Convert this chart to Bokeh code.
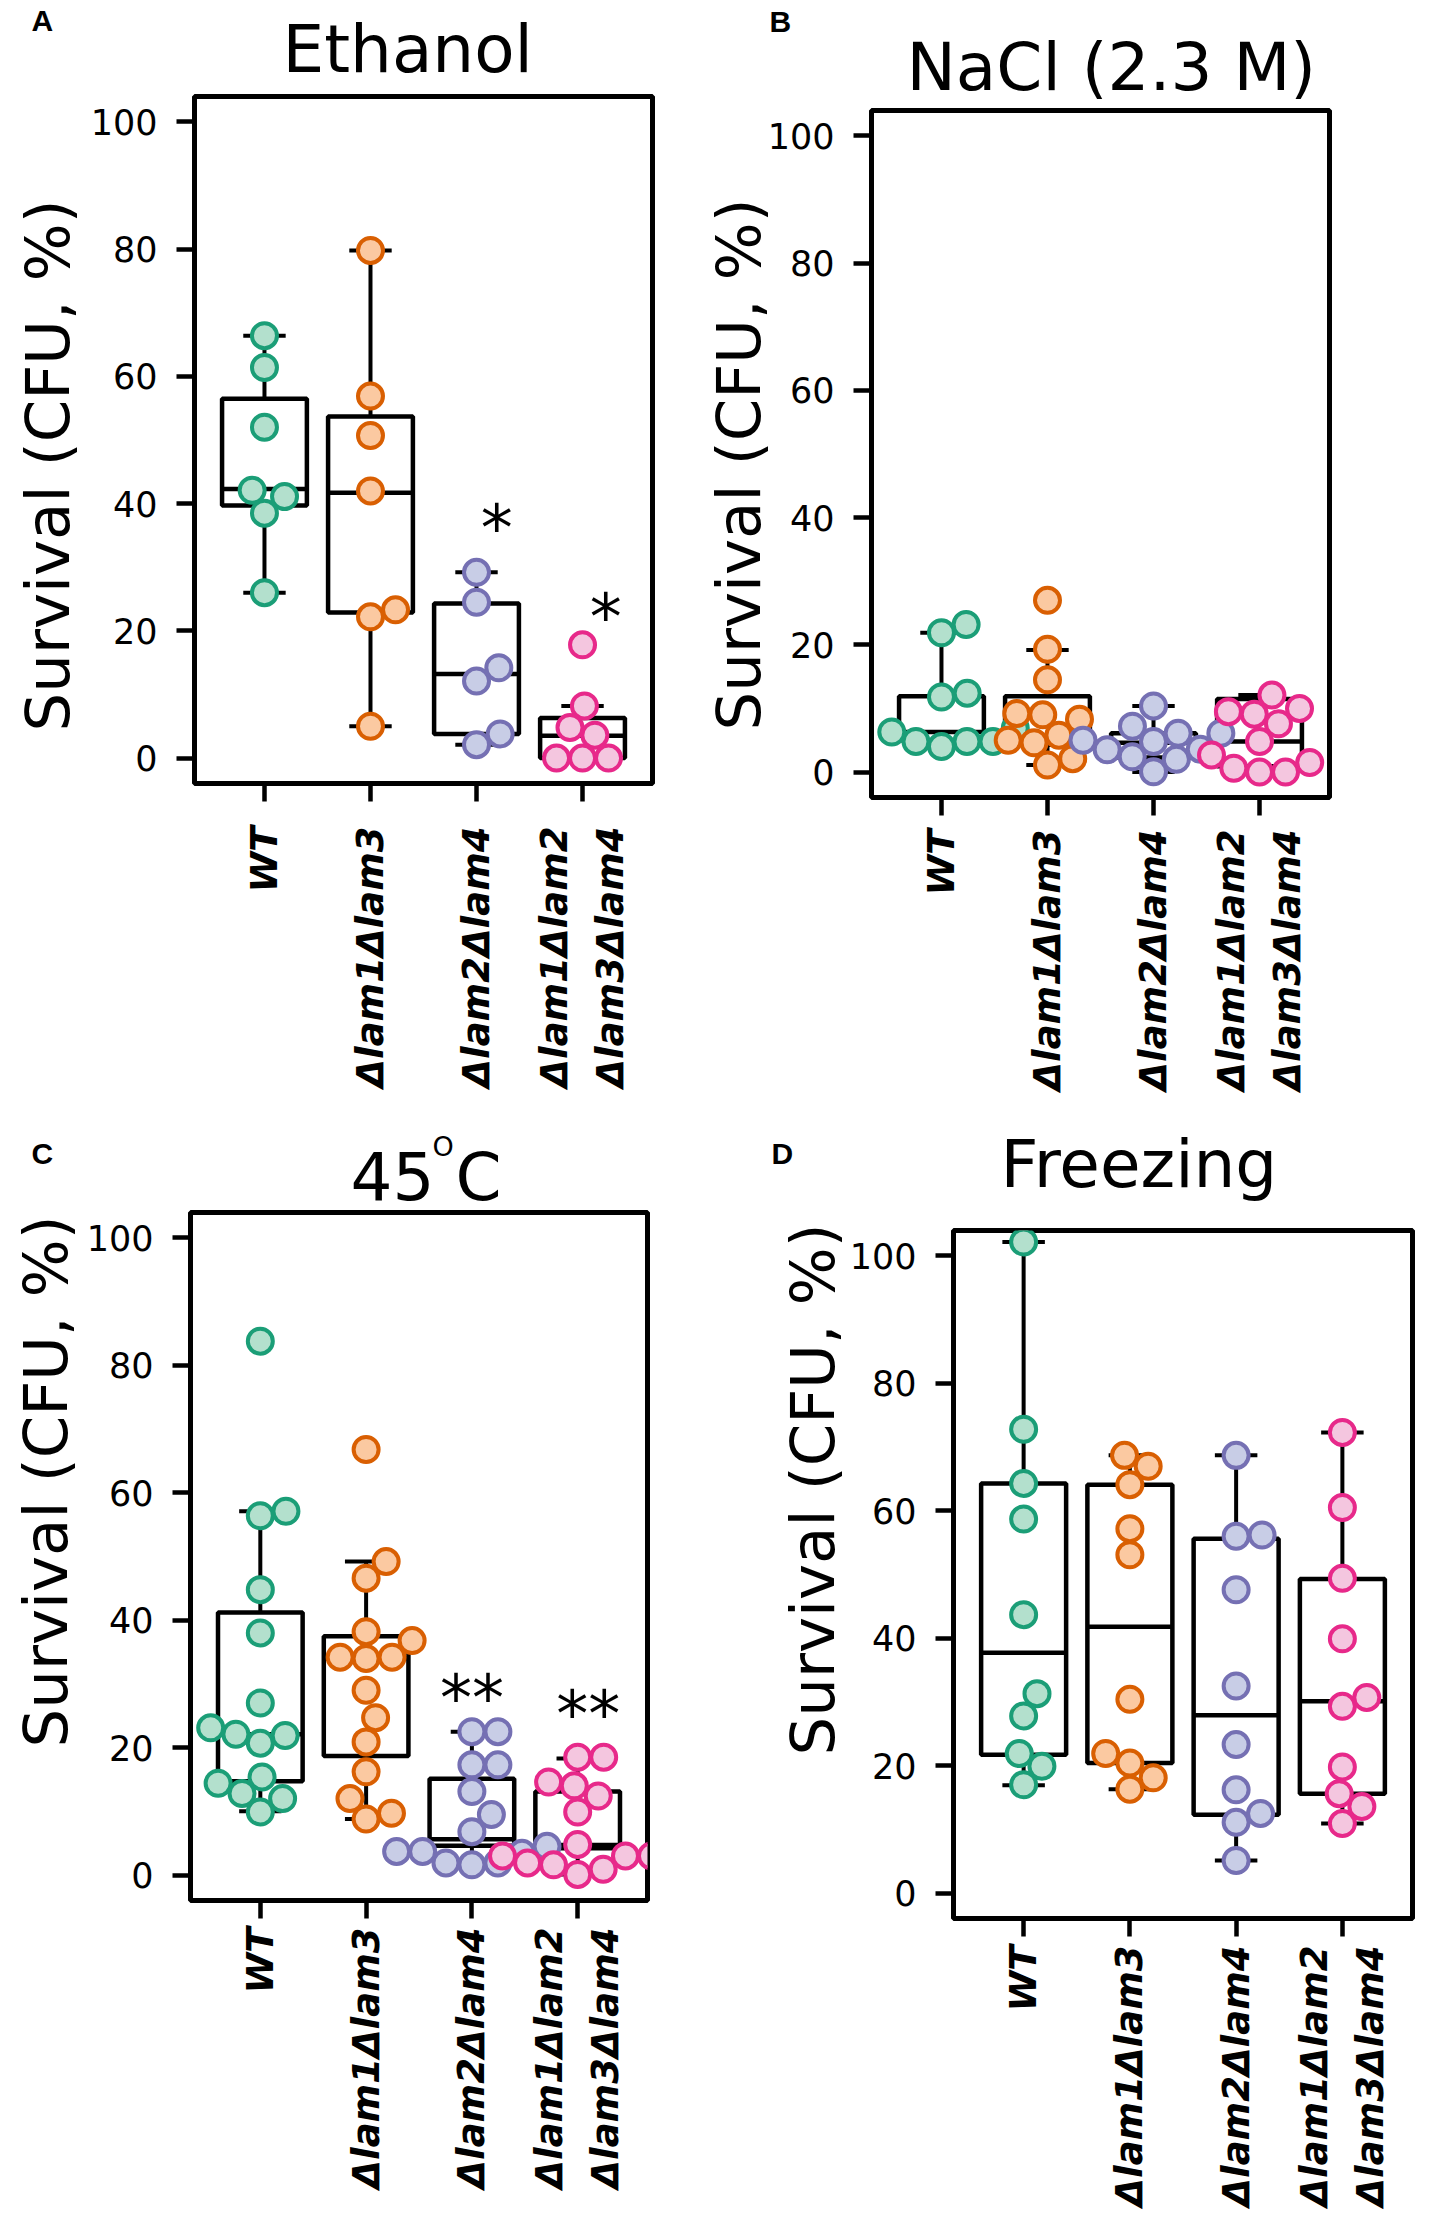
import math
from bokeh.plotting import figure
from bokeh.models import Range1d, FixedTicker, Label, ColumnDataSource, Spacer
from bokeh.layouts import row, column
from bokeh.embed import file_html
from bokeh.resources import INLINE
from bokeh.core.properties import value

# ---------------- data ----------------
categories = ["WT", "Δlam1Δlam3", "Δlam2Δlam4", "Δlam1Δlam2\nΔlam3Δlam4"]
y_ticks = [0, 20, 40, 60, 80, 100]

# Ethanol (A)
eth_wt = [66.4, 61.4, 52.0, 42.1, 41.1, 38.5, 26.0]
eth_l13 = [79.8, 56.9, 50.7, 42.0, 22.2, 23.3, 5.0]
eth_l24 = [29.2, 24.5, 12.1, 14.2, 3.8, 2.1]
eth_l1234 = [17.8, 8.2, 4.8, 3.6, 0.0, 0.0, 0.0]
eth_lo = [26.0, 5.0, 2.1, 0.0]
eth_q1 = [39.7, 22.9, 3.8, 0.0]
eth_med = [42.3, 41.7, 13.2, 3.5]
eth_q3 = [56.5, 53.7, 24.3, 6.3]
eth_hi = [66.4, 79.8, 29.2, 8.2]
eth_star_cat = [3.19, 4.22]
eth_star_y = [37.4, 23.4]
eth_star_txt = ["*", "*"]

# NaCl 2.3 M (B)
nacl_wt = [6.9, 4.8, 4.8, 4.0, 4.8, 6.3, 11.8, 12.4, 21.9, 23.2]
nacl_l13 = [27.0, 19.3, 14.5, 9.0, 8.3, 9.2, 5.0, 4.6, 5.8, 1.1, 2.1]
nacl_l24 = [10.4, 7.2, 4.8, 5.0, 3.5, 2.4, 0.05, 2.0, 3.6, 6.1, 6.1]
nacl_l1234 = [12.1, 9.5, 9.1, 10.0, 7.6, 4.8, 2.7, 0.6, 0.0, 0.0, 1.5]
nacl_lo = [4.0, 1.1, 0.0, 0.0]
nacl_q1 = [5.0, 4.3, 2.3, 0.9]
nacl_med = [6.3, 5.0, 4.6, 4.8]
nacl_q3 = [11.9, 11.9, 6.1, 11.5]
nacl_hi = [21.9, 19.2, 10.4, 12.1]

# 45 C (C)
heat_wt = [83.8, 56.4, 57.1, 44.8, 38.0, 27.0, 21.9, 20.7, 22.1, 23.1, 15.4, 14.4, 12.8, 12.0, 9.9]
heat_l13 = [66.8, 49.2, 46.6, 38.2, 36.8, 34.2, 34.0, 34.2, 29.0, 24.7, 20.9, 16.2, 12.0, 8.8, 9.7]
heat_l24 = [22.5, 22.5, 17.3, 17.3, 13.1, 9.5, 6.8, 3.7, 3.7, 1.9, 1.6, 1.9, 3.4, 4.5]
heat_l1234 = [18.5, 18.5, 14.6, 14.0, 12.4, 9.9, 4.8, 3.0, 1.9, 1.6, 0.1, 0.9, 3.0, 3.0]
heat_lo = [10.0, 8.8, 1.6, 0.1]
heat_q1 = [14.7, 18.7, 4.6, 4.2]
heat_med = [22.1, 34.0, 5.6, 4.7]
heat_q3 = [41.2, 37.5, 15.1, 13.1]
heat_hi = [57.1, 49.2, 22.5, 18.3]
heat_star_cat = [3.0, 4.1]
heat_star_y = [29.0, 26.5]
heat_star_txt = ["**", "**"]

# Freezing (D)
frz_wt = [102.2, 72.8, 64.3, 58.7, 43.7, 31.3, 27.8, 21.9, 19.9, 17.0]
frz_l13 = [68.7, 67.0, 64.1, 57.2, 53.1, 30.4, 21.9, 20.4, 16.3, 18.1]
frz_l24 = [68.7, 56.0, 56.2, 47.6, 32.5, 23.3, 16.2, 11.1, 12.5, 5.1]
frz_l1234 = [72.3, 60.5, 49.4, 39.9, 29.3, 30.7, 19.8, 15.6, 13.6, 10.9]
frz_lo = [16.9, 16.3, 5.1, 10.9]
frz_q1 = [21.7, 20.4, 12.3, 15.6]
frz_med = [37.7, 41.8, 27.9, 30.1]
frz_q3 = [64.3, 64.1, 55.6, 49.3]
frz_hi = [102.2, 68.7, 68.7, 72.3]

# ---------------- style ----------------
line_colors = ["#1B9E77", "#D95F02", "#7570B3", "#E7298A"]
fill_colors = ["#B3E0CD", "#FBC9A1", "#C8CDE6", "#F4C6DF"]
XLO, XHI = 0.34, 4.66
YLO, YHI = -4.0, 104.0
DOT = 26.0       # swarm spacing in px
DOT_SIZE = 25    # drawn marker size
FONT = "DejaVu Sans"
LET = "Liberation Sans"
BASE_SHIFT = 0.35  # label anchor correction (fraction of font size)


def swarm(vals, dsize, gsize):
    """beeswarm 'swarm' method, priority ascending"""
    n = len(vals)
    order = sorted(range(n), key=lambda i: vals[i])
    xs = [v / dsize for v in vals]
    ys = [0.0] * n
    placed = []
    for i in order:
        xi = xs[i]
        pre = [j for j in placed if abs(xi - xs[j]) < 1]
        if pre:
            offs = [math.sqrt(1 - (xi - xs[j]) ** 2) for j in pre]
            cand = [0.0] + [ys[j] + o for j, o in zip(pre, offs)] + [ys[j] - o for j, o in zip(pre, offs)]
            best = None
            for c in cand:
                bad = any((xi - xs[j]) ** 2 + (c - ys[j]) ** 2 < 0.999 for j in pre)
                if not bad and (best is None or abs(c) < abs(best)):
                    best = c
            ys[i] = best
        placed.append(i)
    return [y * gsize for y in ys]


def make_panel(spec):
    fx, fy, w, h = spec["fig"]
    L, R, T, B = spec["frame"]
    p = figure(width=w, height=h, x_range=Range1d(XLO, XHI), y_range=Range1d(YLO, YHI),
               output_backend="svg", toolbar_location=None, title=None,
               min_border_left=L - fx, min_border_right=fx + w - R,
               min_border_top=T - fy, min_border_bottom=fy + h - B)
    p.background_fill_color = "white"
    p.border_fill_color = "white"
    p.outline_line_color = "black"
    p.outline_line_width = 5
    p.xgrid.visible = False
    p.ygrid.visible = False

    for ax in (p.xaxis[0], p.yaxis[0]):
        ax.axis_line_color = None
        ax.major_tick_line_color = "black"
        ax.major_tick_line_width = 4.5
        ax.major_tick_out = 18
        ax.major_tick_in = 0
        ax.minor_tick_line_color = None
        ax.major_label_text_color = "black"
    p.yaxis.ticker = FixedTicker(ticks=y_ticks)
    p.yaxis.major_label_text_font = FONT
    p.yaxis.major_label_text_font_size = "35px"
    p.yaxis.major_label_standoff = 19
    p.xaxis.ticker = FixedTicker(ticks=[1, 2, 3, 4])
    p.xaxis.major_label_overrides = {i + 1: c for i, c in enumerate(categories)}
    p.xaxis.major_label_orientation = math.pi / 2
    p.xaxis.major_label_text_font = FONT
    p.xaxis.major_label_text_font_style = "bold italic"
    p.xaxis.major_label_text_font_size = "37px"
    p.xaxis.major_label_text_line_height = 1.3
    p.xaxis.major_label_standoff = spec["xstandoff"]

    ppx = (R - L) / (XHI - XLO)
    ppy = (B - T) / (YHI - YLO)

    def dxp(px):
        return XLO + (px - L) / ppx

    def dyp(py):
        return YLO + (B - py) / ppy

    lo, q1, med, q3, hi = spec["box"]
    cx = [1, 2, 3, 4]
    src = ColumnDataSource(dict(
        x=cx, left=[c - 0.4 for c in cx], right=[c + 0.4 for c in cx],
        cl=[c - 0.2 for c in cx], cr=[c + 0.2 for c in cx],
        lo=lo, q1=q1, med=med, q3=q3, hi=hi))
    p.segment(x0="x", x1="x", y0="q3", y1="hi", source=src, line_color="black", line_width=4)
    p.segment(x0="x", x1="x", y0="lo", y1="q1", source=src, line_color="black", line_width=4)
    p.segment(x0="cl", x1="cr", y0="hi", y1="hi", source=src, line_color="black", line_width=4)
    p.segment(x0="cl", x1="cr", y0="lo", y1="lo", source=src, line_color="black", line_width=4)
    p.quad(left="left", right="right", bottom="q1", top="q3", source=src,
           fill_color=None, line_color="black", line_width=4.5)
    p.segment(x0="left", x1="right", y0="med", y1="med", source=src, line_color="black", line_width=4.5)

    dsize = DOT / ppy
    gsize = DOT / ppx
    for gi, vals in enumerate(spec["groups"]):
        offs = swarm(vals, dsize, gsize)
        p.scatter(x=[gi + 1 + o for o in offs], y=vals, size=DOT_SIZE, marker="circle",
                  fill_color=fill_colors[gi], line_color=line_colors[gi], line_width=4)

    if spec.get("stars"):
        sc, sy, st = spec["stars"]
        p.text(x=sc, y=sy, text=st, text_font=value(FONT), text_font_size="64px",
               text_align="center", text_baseline="alphabetic", y_offset=8, text_color="black")

    # titles / letters: labels placed in side panels (absolute positions via data coords)
    for (txt, px, py, size, font, style, side) in spec["texts"]:
        py_adj = py - BASE_SHIFT * size
        p.add_layout(Label(x=dxp(px), y=dyp(py_adj), text=txt, text_font=font,
                           text_font_size=f"{size}px", text_font_style=style,
                           text_align="left", text_baseline="alphabetic",
                           text_color="black"), side)
    ylx, yly, yside = spec["ylab"]
    p.add_layout(Label(x=dxp(ylx), y=dyp(yly), text="Survival (CFU, %)", text_font=FONT,
                       text_font_size="61px", angle=math.pi / 2, text_align="center",
                       text_baseline="middle", text_color="black"), yside)
    return p


# page coordinates (no page margin): fig=(x0, y0, width, height), frame=(L, R, T, B)
specA = dict(fig=(0, 0, 698, 1120), frame=(194, 652, 96, 783), xstandoff=25,
             box=(eth_lo, eth_q1, eth_med, eth_q3, eth_hi),
             groups=[eth_wt, eth_l13, eth_l24, eth_l1234],
             stars=(eth_star_cat, eth_star_y, eth_star_txt),
             texts=[("Ethanol", 282, 72, 66, FONT, "normal", "above"),
                    ("A", 31, 30, 30, LET, "bold", "right")],
             ylab=(47, 465, "left"))
specB = dict(fig=(698, 1, 732, 1119), frame=(871, 1329, 110, 797), xstandoff=14,
             box=(nacl_lo, nacl_q1, nacl_med, nacl_q3, nacl_hi),
             groups=[nacl_wt, nacl_l13, nacl_l24, nacl_l1234],
             texts=[("NaCl (2.3 M)", 906, 90, 66, FONT, "normal", "above"),
                    ("B", 769, 31, 30, LET, "bold", "right")],
             ylab=(738, 464, "right"))
specC = dict(fig=(0, 1120, 708, 1105), frame=(190, 647, 1212, 1900), xstandoff=9,
             box=(heat_lo, heat_q1, heat_med, heat_q3, heat_hi),
             groups=[heat_wt, heat_l13, heat_l24, heat_l1234],
             stars=(heat_star_cat, heat_star_y, heat_star_txt),
             texts=[("45 C", 350, 1200, 66, FONT, "normal", "above"),
                    ("O", 432, 1155, 27, FONT, "normal", "right"),
                    ("C", 31, 1163, 30, LET, "bold", "right")],
             ylab=(45, 1481, "left"))
specD = dict(fig=(708, 1121, 722, 1104), frame=(953, 1412, 1230, 1918), xstandoff=9,
             box=(frz_lo, frz_q1, frz_med, frz_q3, frz_hi),
             groups=[frz_wt, frz_l13, frz_l24, frz_l1234],
             texts=[("Freezing", 1000, 1187, 66, FONT, "normal", "above"),
                    ("D", 771, 1163, 30, LET, "bold", "left")],
             ylab=(812, 1489, "left"))

pA, pB, pC, pD = (make_panel(s) for s in (specA, specB, specC, specD))
layout = column(row(pA, column(Spacer(width=1, height=1), pB)),
                row(pC, column(Spacer(width=1, height=1), pD)))
open("out.html", "w").write(file_html(layout, INLINE))
